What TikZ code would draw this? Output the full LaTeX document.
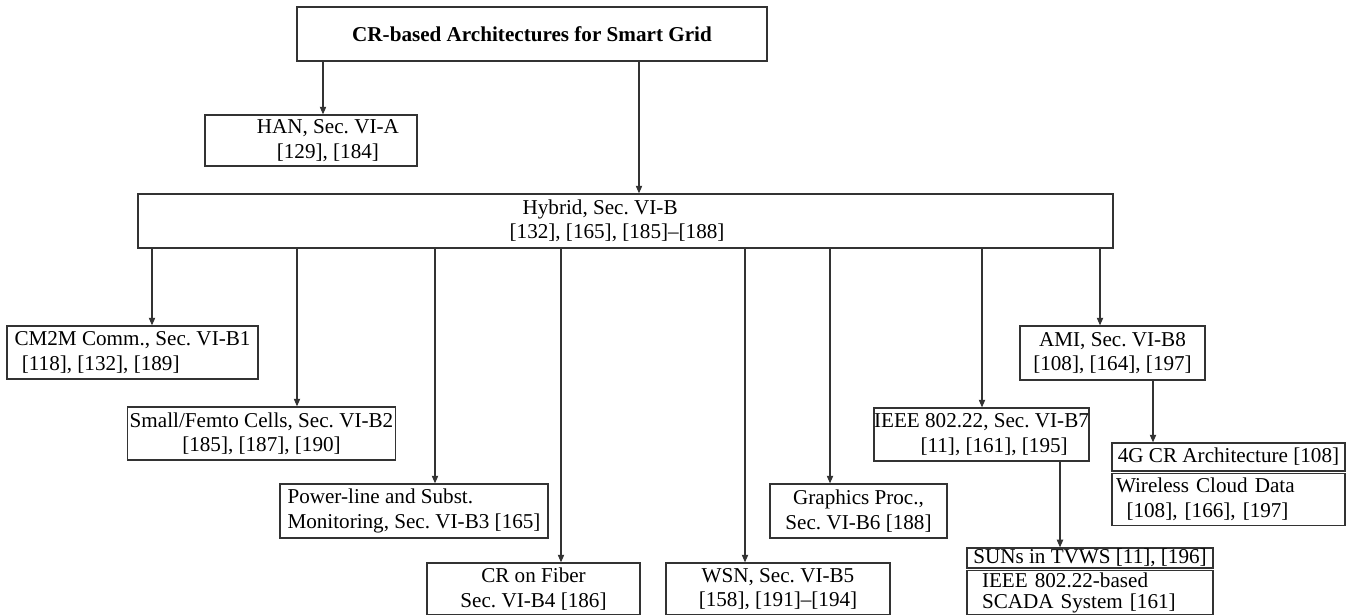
\documentclass[tikz,border=0pt]{standalone}
\usepackage{fontspec}
\setmainfont{Liberation Serif}
\usetikzlibrary{arrows.meta,positioning}
\definecolor{ink}{HTML}{333333}
\newdimen\pxu \pxu=0.4732pt
\frenchspacing

\begin{document}
\begin{tikzpicture}[x=0.4732pt,y=-0.4732pt,font=\fontsize{10}{11.5}\selectfont,
  box/.style={draw=ink,line width=0.6pt,inner xsep=4\pxu,inner ysep=1pt,align=center},
  arr/.style={-{Triangle[length=3.6pt,width=3pt]},line width=0.5pt,draw=ink}]
\useasboundingbox (0,0) rectangle (1356,615);
\node[box,minimum width=470\pxu,minimum height=54\pxu] (top) at (532,34) {\bfseries CR-based Architectures for Smart Grid};
\node[box,minimum width=212\pxu,minimum height=51\pxu] (han) at (311,140.5) {\hspace*{16pt}HAN, Sec. VI-A\\\hspace*{16pt}[129], [184]};
\node[box,minimum width=975\pxu,minimum height=54\pxu] (hyb) at (625.5,221) {Hybrid, Sec. VI-B\hspace*{24pt}\\{}[132], [165], [185]--[188]\hspace*{8pt}};
\node[box,align=left,minimum width=251\pxu,minimum height=53\pxu] (cm2m) at (132.5,352.5) {CM2M Comm., Sec. VI-B1\\\hspace*{3.5pt}[118], [132], [189]};
\node[box,inner xsep=1pt,minimum width=259\pxu,minimum height=53\pxu] (femto) at (261.5,433.5) {Small/Femto Cells, Sec. VI-B2\\{}[185], [187], [190]};
\node[box,align=left,minimum width=268\pxu,minimum height=54\pxu] (power) at (414,511) {Power-line and Subst.\\Monitoring, Sec. VI-B3 [165]};
\node[box,minimum width=213\pxu,minimum height=52\pxu] (fiber) at (533.5,589) {CR on Fiber\\Sec. VI-B4 [186]};
\node[box,minimum width=224\pxu,minimum height=52\pxu] (wsn) at (778,589) {WSN, Sec. VI-B5\\{}[158], [191]--[194]};
\node[box,minimum width=177\pxu,minimum height=54\pxu] (gfx) at (858.5,511) {Graphics Proc.,\\Sec. VI-B6 [188]};
\node[box,align=left,inner xsep=0pt,minimum width=213\pxu,minimum height=53\pxu] (ieee) at (981.5,434.5) {IEEE 802.22, Sec. VI-B7\\\hspace*{22pt}[11], [161], [195]};
\node[box,minimum width=185\pxu,minimum height=54\pxu] (ami) at (1112.5,353) {AMI, Sec. VI-B8\\{}[108], [164], [197]};
\node[box,minimum width=233\pxu,minimum height=28\pxu] (g4) at (1228.5,457) {4G CR Architecture [108]};
\node[box,align=left,text width=225\pxu,minimum height=52\pxu,below=0.5pt of g4] (wcd) {Wireless Cloud Data\\\hspace*{5pt}[108], [166], [197]};
\node[box,align=left,inner ysep=0.5pt,minimum width=246\pxu,minimum height=20\pxu] (suns) at (1090,558) {SUNs in TVWS [11], [196]};
\node[box,align=left,font=\fontsize{10}{10}\selectfont,inner xsep=15\pxu,text width=216\pxu,minimum height=44\pxu,below=0.5pt of suns] (scada) {IEEE 802.22-based\\SCADA System [161]};
\draw[arr] (top.south -| 323,0) -- (han.north -| 323,0);
\draw[arr] (top.south -| 639,0) -- (hyb.north -| 639,0);
\foreach \n/\x in {cm2m/152,femto/297,power/435,fiber/561,wsn/745,gfx/830,ieee/982,ami/1100}
  \draw[arr] (hyb.south -| \x,0) -- (\n.north -| \x,0);
\draw[arr] (ami.south -| 1153,0) -- (g4.north -| 1153,0);
\draw[arr] (ieee.south -| 1060,0) -- (suns.north -| 1060,0);
\end{tikzpicture}
\end{document}
